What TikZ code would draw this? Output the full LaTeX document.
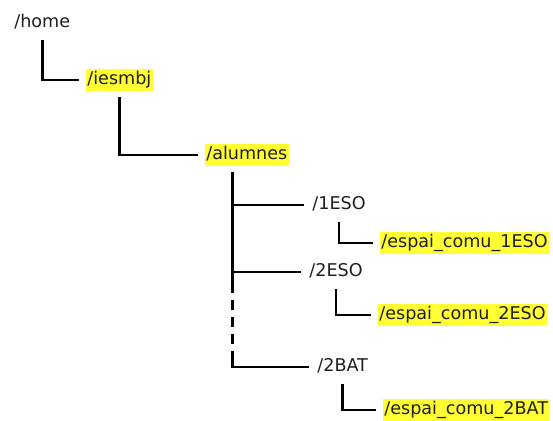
\documentclass[tikz,border=0pt]{standalone}
\usepackage{fontspec}
\setmainfont{DejaVu Sans}
\usepackage{tikz}
\usetikzlibrary{calc}
\definecolor{dirhl}{RGB}{255,255,51}
\definecolor{dirtext}{RGB}{30,30,30}
\tikzset{
  dirnode/.style={anchor=west,inner xsep=1pt,inner ysep=1.5pt,text=dirtext,
    text height=12pt,text depth=3.8pt,font=\fontsize{15}{18}\selectfont},
  hlnode/.style={dirnode,fill=dirhl},
  treeline/.style={line width=2.4pt,draw=black,shorten <=0.18cm,shorten >=0.21cm},
  treedash/.style={line width=2.4pt,draw=black,dash pattern=on 0.3cm off 0.21cm,dash phase=0.3cm}
}

\begin{document}
\begin{tikzpicture}[x=0.03cm,y=-0.03cm]
  \useasboundingbox (0,0) rectangle (553,421);
  % folders
  \node[dirnode] (home) at (13,23) {/home};
  \node[hlnode] (iesmbj) at (86,80) {/iesmbj};
  \node[hlnode] (alumnes) at (205,155) {/alumnes};
  \node[dirnode] (eso1) at (311,205) {/1ESO};
  \node[hlnode] (comu1) at (380,243) {/espai\_comu\_1ESO};
  \node[dirnode] (eso2) at (308,272) {/2ESO};
  \node[hlnode] (comu2) at (378,315) {/espai\_comu\_2ESO};
  \node[dirnode] (bat2) at (316,367) {/2BAT};
  \node[hlnode] (comu3) at (383,410) {/espai\_comu\_2BAT};
  % tree lines
  \draw[treeline] (home.south) |- (iesmbj.west);
  \draw[treeline] (iesmbj.south) |- (alumnes.west);
  \coordinate (trunk) at ([xshift=-0.42cm]alumnes.south);
  \draw[treeline] (trunk) |- (eso1.west);
  \draw[treeline] (trunk) |- (eso2.west);
  \coordinate (dashtop) at ($(trunk |- eso2.west)+(0,21)$);
  \coordinate (dashend) at ($(trunk |- bat2.west)+(0,-9)$);
  \draw[treeline,shorten >=0pt] (trunk) -- (dashtop);
  \draw[treedash] (dashtop) -- (dashend);
  \draw[treeline,shorten <=0pt] (dashend) |- (bat2.west);
  \draw[treeline] (eso1.south) |- (comu1.west);
  \draw[treeline] (eso2.south) |- (comu2.west);
  \draw[treeline] (bat2.south) |- (comu3.west);
\end{tikzpicture}
\end{document}
